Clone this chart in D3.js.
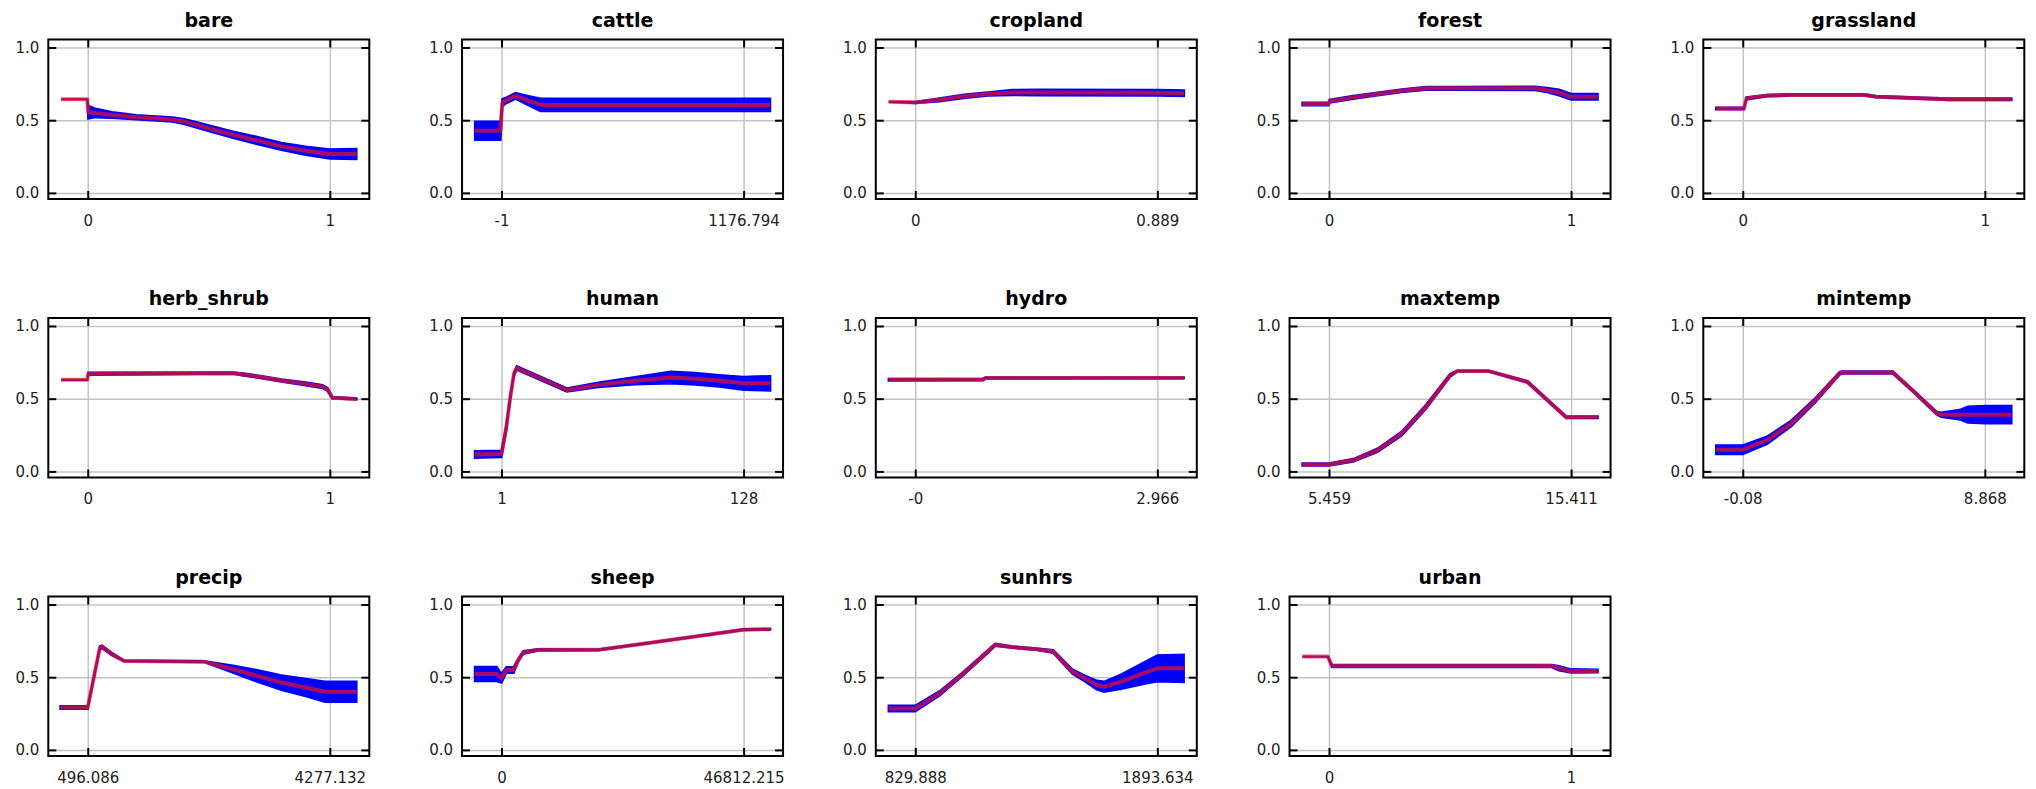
<!DOCTYPE html>
<html>
<head>
<meta charset="utf-8">
<script src="https://cdn.jsdelivr.net/npm/d3@7"></script>
<style>
body { margin: 0; background: #fff; }
text { font-family: "DejaVu Sans", sans-serif; }
</style>
</head>
<body>
<div id="chart_area"></div>
<script>
// response curves: mean (red) and +/- one sd (blue), one panel per variable
var variables = ["bare", "cattle", "cropland", "forest", "grassland",
                 "herb_shrub", "human", "hydro", "maxtemp", "mintemp",
                 "precip", "sheep", "sunhrs", "urban"];
var tickLo = [0, -1, 0, 0, 0, 0, 1, 0, 5.459, -0.08, 496.086, 0, 829.888, 0];
var tickHi = [1, 1176.794, 0.889, 1, 1, 1, 128, 2.966, 15.411, 8.868, 4277.132, 46812.215, 1893.634, 1];
var tickLoLabels = ["0", "-1", "0", "0", "0", "0", "1", "-0", "5.459", "-0.08", "496.086", "0", "829.888", "0"];
var tickHiLabels = ["1", "1176.794", "0.889", "1", "1", "1", "128", "2.966", "15.411", "8.868", "4277.132", "46812.215", "1893.634", "1"];
var yTicks = [0, 0.5, 1];

var bareX = [-0.11, -0.002, 0.002, 0.03, 0.1, 0.2, 0.35, 0.4, 0.5, 0.6, 0.7, 0.8, 0.9, 1.0, 1.11];
var bareMean = [0.644, 0.644, 0.555, 0.55, 0.536, 0.52, 0.505, 0.49, 0.444, 0.40, 0.36, 0.32, 0.29, 0.267, 0.267];
var bareSd = [0, 0, 0.045, 0.03, 0.02, 0.015, 0.015, 0.018, 0.02, 0.022, 0.025, 0.025, 0.028, 0.032, 0.035];

var cattleX = [-130, -6, 3, 20, 67, 120, 189, 500, 900, 1306];
var cattleMean = [0.428, 0.428, 0.62, 0.635, 0.667, 0.64, 0.605, 0.605, 0.605, 0.605];
var cattleSd = [0.063, 0.063, 0.025, 0.02, 0.02, 0.03, 0.043, 0.043, 0.043, 0.043];

var croplandX = [-0.098, 0, 0.089, 0.178, 0.267, 0.356, 0.445, 0.889, 0.987];
var croplandMean = [0.627, 0.622, 0.64, 0.664, 0.68, 0.69, 0.69, 0.688, 0.686];
var croplandSd = [0, 0.005, 0.01, 0.012, 0.012, 0.018, 0.02, 0.02, 0.02];

var forestX = [-0.11, -0.002, 0.002, 0.1, 0.2, 0.3, 0.4, 0.5, 0.85, 0.9, 0.95, 1.0, 1.11];
var forestMean = [0.611, 0.611, 0.63, 0.657, 0.68, 0.703, 0.719, 0.719, 0.719, 0.707, 0.69, 0.661, 0.661];
var forestSd = [0.01, 0.01, 0.01, 0.01, 0.01, 0.01, 0.01, 0.01, 0.012, 0.015, 0.02, 0.02, 0.02];

var grasslandX = [-0.11, 0.005, 0.015, 0.1, 0.2, 0.5, 0.55, 0.75, 0.85, 1.0, 1.11];
var grasslandMean = [0.58, 0.58, 0.65, 0.669, 0.674, 0.674, 0.662, 0.65, 0.644, 0.644, 0.644];
var grasslandSd = [0.006, 0.006, 0.008, 0.006, 0.006, 0.006, 0.006, 0.006, 0.006, 0.006, 0.006];

var herbX = [-0.11, -0.002, 0.002, 0.6, 0.65, 0.7, 0.8, 0.9, 0.97, 0.99, 1.01, 1.11];
var herbMean = [0.63, 0.63, 0.671, 0.676, 0.664, 0.653, 0.625, 0.602, 0.583, 0.565, 0.507, 0.498];
var herbSd = [0, 0, 0.008, 0.005, 0.008, 0.008, 0.008, 0.01, 0.01, 0.01, 0.006, 0.004];

var humanX = [-13, 1, 3.5, 5.5, 7.5, 9, 35.3, 51.8, 70.9, 89.9, 102.6, 115.3, 128, 142];
var humanMean = [0.116, 0.12, 0.3, 0.5, 0.67, 0.711, 0.56, 0.595, 0.623, 0.646, 0.637, 0.623, 0.606, 0.606];
var humanSd = [0.023, 0.023, 0.02, 0.015, 0.012, 0.012, 0.012, 0.015, 0.025, 0.04, 0.04, 0.04, 0.045, 0.05];

var hydroX = [-0.326, 0.83, 0.86, 3.29];
var hydroMean = [0.63, 0.632, 0.642, 0.643];
var hydroSd = [0.006, 0.006, 0.004, 0.004];

var maxtempX = [4.364, 5.459, 6.454, 7.449, 8.445, 9.44, 10.435, 10.73, 12.03, 13.62, 15.21, 16.506];
var maxtempMean = [0.048, 0.048, 0.076, 0.145, 0.259, 0.443, 0.66, 0.69, 0.69, 0.615, 0.372, 0.372];
var maxtempSd = [0.008, 0.008, 0.01, 0.012, 0.014, 0.014, 0.01, 0.004, 0.004, 0.006, 0.006, 0.006];

var mintempX = [-1.064, -0.08, 0.815, 1.71, 2.604, 3.499, 3.589, 5.468, 6.184, 7.078, 7.257, 7.973, 8.24, 8.868, 9.852];
var mintempMean = [0.149, 0.149, 0.214, 0.329, 0.49, 0.674, 0.68, 0.68, 0.559, 0.402, 0.39, 0.39, 0.39, 0.39, 0.39];
var mintempSd = [0.03, 0.03, 0.025, 0.02, 0.015, 0.01, 0.008, 0.008, 0.008, 0.01, 0.015, 0.035, 0.055, 0.06, 0.06];

var precipX = [69, 496.1, 685.1, 722.9, 874.2, 1063.2, 2311, 2764.7, 3142.8, 3521, 3899, 4201.5, 4693];
var precipMean = [0.292, 0.292, 0.703, 0.708, 0.658, 0.612, 0.607, 0.555, 0.509, 0.463, 0.429, 0.40, 0.40];
var precipSd = [0.01, 0.01, 0.01, 0.01, 0.008, 0.003, 0.003, 0.025, 0.04, 0.05, 0.06, 0.07, 0.07];

var sheepX = [-5149, -936, 0, 936, 2341, 3277, 4213, 7022, 18725, 28087, 37450, 46812, 51961];
var sheepMean = [0.522, 0.522, 0.492, 0.55, 0.55, 0.62, 0.67, 0.688, 0.688, 0.734, 0.78, 0.827, 0.83];
var sheepSd = [0.05, 0.05, 0.03, 0.02, 0.02, 0.01, 0.01, 0.006, 0.003, 0.003, 0.003, 0.003, 0.003];

var sunhrsX = [713, 829.9, 936.3, 1042.6, 1149, 1180.9, 1255.4, 1361.8, 1436.2, 1521.3, 1574.5, 1627.7, 1659.6, 1734.1, 1840.4, 1893.6, 2010];
var sunhrsMean = [0.284, 0.284, 0.388, 0.527, 0.677, 0.723, 0.707, 0.693, 0.677, 0.538, 0.492, 0.446, 0.434, 0.469, 0.531, 0.561, 0.561];
var sunhrsSd = [0.02, 0.02, 0.015, 0.012, 0.01, 0.008, 0.006, 0.006, 0.01, 0.015, 0.02, 0.03, 0.035, 0.05, 0.075, 0.09, 0.095];

var urbanX = [-0.11, -0.005, 0.012, 0.92, 0.95, 1.0, 1.11];
var urbanMean = [0.642, 0.642, 0.577, 0.577, 0.561, 0.543, 0.543];
var urbanSd = [0, 0, 0.008, 0.008, 0.015, 0.012, 0.01];

var curveX = [bareX, cattleX, croplandX, forestX, grasslandX, herbX, humanX, hydroX, maxtempX, mintempX, precipX, sheepX, sunhrsX, urbanX];
var curveMean = [bareMean, cattleMean, croplandMean, forestMean, grasslandMean, herbMean, humanMean, hydroMean, maxtempMean, mintempMean, precipMean, sheepMean, sunhrsMean, urbanMean];
var curveSd = [bareSd, cattleSd, croplandSd, forestSd, grasslandSd, herbSd, humanSd, hydroSd, maxtempSd, mintempSd, precipSd, sheepSd, sunhrsSd, urbanSd];

var width = 2036, height = 789;
var boxW = 321, boxH = 159.5;
var left0 = 48.3, top0 = 39.5, colStep = 413.75, rowStep = 278.5;

var svg = d3.select("#chart_area")
    .append("svg")
    .attr("width", width)
    .attr("height", height);

var y = d3.scaleLinear().domain([-0.042, 1.055]).range([boxH, 0]);

variables.forEach(function (name, i) {
    var lo = tickLo[i], hi = tickHi[i], r = hi - lo;
    var x = d3.scaleLinear()
        .domain([lo - 0.163 * r, hi + 0.163 * r])
        .range([0, boxW]);

    var pts = curveX[i].map(function (v, j) {
        return { x: v, m: curveMean[i][j], s: curveSd[i][j] };
    });

    var g = svg.append("g")
        .attr("transform", "translate(" + (left0 + (i % 5) * colStep) + "," + (top0 + Math.floor(i / 5) * rowStep) + ")");

    // grid
    g.append("g")
        .attr("class", "grid")
        .call(d3.axisLeft(y).tickValues(yTicks).tickSize(-boxW).tickFormat(""));
    g.append("g")
        .attr("class", "grid")
        .attr("transform", "translate(0," + boxH + ")")
        .call(d3.axisBottom(x).tickValues([lo, hi]).tickSize(-boxH).tickFormat(""));
    g.selectAll(".grid .domain").remove();
    g.selectAll(".grid line").attr("stroke", "#c4c4c4").attr("stroke-width", 1.5);

    // sd band
    var band = d3.area()
        .x(function (d) { return x(d.x); })
        .y0(function (d) { return y(d.m - d.s); })
        .y1(function (d) { return y(d.m + d.s); });
    g.append("path")
        .datum(pts)
        .attr("d", band)
        .attr("fill", "#0000ff")
        .attr("stroke", "#0000ff")
        .attr("stroke-width", 2.2);

    // mean
    var line = d3.line()
        .x(function (d) { return x(d.x); })
        .y(function (d) { return y(d.m); });
    g.append("path")
        .datum(pts)
        .attr("d", line)
        .attr("fill", "none")
        .attr("stroke", "#ff1010")
        .attr("stroke-opacity", 0.66)
        .attr("stroke-width", 4)
        .attr("stroke-linejoin", "round");

    // frame and inside ticks
    g.append("rect")
        .attr("width", boxW)
        .attr("height", boxH)
        .attr("fill", "none")
        .attr("stroke", "#000")
        .attr("stroke-width", 2);

    g.append("g")
        .attr("class", "ax")
        .call(d3.axisLeft(y).tickValues(yTicks).tickFormat(d3.format(".1f"))
            .tickSizeInner(-8).tickSizeOuter(0).tickPadding(9));
    g.append("g")
        .attr("class", "ax")
        .attr("transform", "translate(" + boxW + ",0)")
        .call(d3.axisRight(y).tickValues(yTicks).tickFormat("").tickSizeInner(-8).tickSizeOuter(0));
    g.append("g")
        .attr("class", "ax")
        .attr("transform", "translate(0," + boxH + ")")
        .call(d3.axisBottom(x).tickValues([lo, hi])
            .tickFormat(function (d, k) { return k === 0 ? tickLoLabels[i] : tickHiLabels[i]; })
            .tickSizeInner(-8).tickSizeOuter(0).tickPadding(16));
    g.append("g")
        .attr("class", "ax")
        .call(d3.axisTop(x).tickValues([lo, hi]).tickFormat("").tickSizeInner(-8).tickSizeOuter(0));
    g.selectAll(".ax .domain").remove();
    g.selectAll(".ax line").attr("stroke", "#000").attr("stroke-width", 2);
    g.selectAll(".ax text")
        .attr("font-family", "DejaVu Sans, sans-serif")
        .attr("font-size", 15)
        .attr("fill", "#222");

    g.append("text")
        .attr("x", boxW / 2)
        .attr("y", -13)
        .attr("text-anchor", "middle")
        .attr("font-family", "DejaVu Sans, sans-serif")
        .attr("font-weight", "bold")
        .attr("font-size", 19)
        .attr("fill", "#000")
        .text(name);
});
</script>
</body>
</html>
